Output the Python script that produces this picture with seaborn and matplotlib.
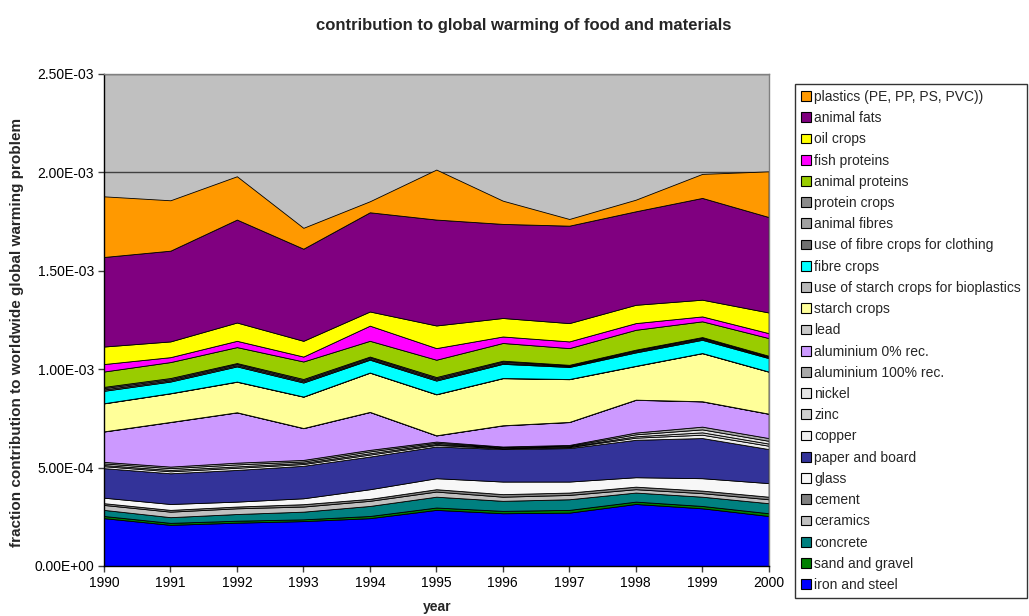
import matplotlib
matplotlib.use("Agg")
import matplotlib.pyplot as plt
import seaborn as sns
from matplotlib.patches import Patch
from matplotlib.ticker import FormatStrFormatter

# values, in units of 1e-4
UNIT = 1e-4
years = list(range(1990, 2001))

iron_steel = [2.43, 2.09, 2.20, 2.28, 2.43, 2.85, 2.68, 2.71, 3.15, 2.93, 2.54]
sand_gravel = [0.11, 0.10, 0.10, 0.09, 0.11, 0.12, 0.12, 0.14, 0.12, 0.12, 0.14]
concrete = [0.31, 0.29, 0.34, 0.39, 0.51, 0.55, 0.51, 0.54, 0.46, 0.47, 0.51]
ceramics = [0.25, 0.28, 0.29, 0.26, 0.26, 0.26, 0.21, 0.22, 0.17, 0.18, 0.20]
cement = [0.09, 0.09, 0.09, 0.12, 0.10, 0.12, 0.13, 0.12, 0.13, 0.13, 0.13]
glass = [0.28, 0.30, 0.25, 0.30, 0.49, 0.56, 0.64, 0.56, 0.48, 0.63, 0.69]
paper_board = [1.50, 1.56, 1.61, 1.65, 1.66, 1.61, 1.65, 1.70, 1.90, 2.04, 1.73]
copper = [0.10, 0.10, 0.11, 0.09, 0.10, 0.08, 0.04, 0.05, 0.11, 0.17, 0.17]
zinc = [0.06, 0.07, 0.07, 0.06, 0.07, 0.05, 0.03, 0.03, 0.07, 0.12, 0.11]
nickel = [0.08, 0.09, 0.10, 0.07, 0.09, 0.06, 0.03, 0.04, 0.10, 0.15, 0.14]
alu_100 = [0.08, 0.08, 0.09, 0.08, 0.08, 0.06, 0.03, 0.04, 0.09, 0.14, 0.14]
alu_0 = [1.54, 2.26, 2.55, 1.61, 1.92, 0.31, 1.07, 1.16, 1.66, 1.28, 1.23]
lead = [0.01, 0.01, 0.01, 0.01, 0.01, 0.01, 0.01, 0.01, 0.01, 0.01, 0.01]
starch_crops = [1.42, 1.45, 1.55, 1.59, 1.99, 2.08, 2.39, 2.17, 1.71, 2.44, 2.13]
starch_bioplastics = [0.01, 0.01, 0.01, 0.01, 0.01, 0.01, 0.01, 0.01, 0.01, 0.01, 0.01]
fibre_crops = [0.63, 0.59, 0.77, 0.71, 0.65, 0.69, 0.72, 0.61, 0.68, 0.67, 0.68]
fibre_clothing = [0.07, 0.06, 0.06, 0.06, 0.05, 0.06, 0.05, 0.04, 0.05, 0.05, 0.04]
animal_fibres = [0.07, 0.06, 0.06, 0.06, 0.06, 0.06, 0.06, 0.04, 0.05, 0.05, 0.04]
protein_crops = [0.06, 0.06, 0.05, 0.06, 0.05, 0.06, 0.05, 0.03, 0.04, 0.04, 0.04]
animal_proteins = [0.78, 0.81, 0.81, 0.89, 0.80, 0.88, 0.90, 0.85, 1.01, 0.80, 0.90]
fish_proteins = [0.38, 0.25, 0.32, 0.25, 0.77, 0.59, 0.33, 0.34, 0.34, 0.25, 0.25]
oil_crops = [0.89, 0.80, 0.93, 0.80, 0.72, 1.15, 0.94, 0.93, 0.93, 0.85, 1.05]
animal_fats = [4.55, 4.61, 5.23, 4.68, 5.04, 5.38, 4.78, 4.95, 4.75, 5.17, 4.85]
plastics = [3.08, 2.56, 2.20, 1.06, 0.56, 2.54, 1.18, 0.34, 0.59, 1.22, 2.32]

# stacking order, bottom to top
series = [
    ("iron and steel", iron_steel),
    ("sand and gravel", sand_gravel),
    ("concrete", concrete),
    ("ceramics", ceramics),
    ("cement", cement),
    ("glass", glass),
    ("paper and board", paper_board),
    ("copper", copper),
    ("zinc", zinc),
    ("nickel", nickel),
    ("aluminium 100% rec.", alu_100),
    ("aluminium 0% rec.", alu_0),
    ("lead", lead),
    ("starch crops", starch_crops),
    ("use of starch crops for bioplastics", starch_bioplastics),
    ("fibre crops", fibre_crops),
    ("use of fibre crops for clothing", fibre_clothing),
    ("animal fibres", animal_fibres),
    ("protein crops", protein_crops),
    ("animal proteins", animal_proteins),
    ("fish proteins", fish_proteins),
    ("oil crops", oil_crops),
    ("animal fats", animal_fats),
    ("plastics (PE, PP, PS, PVC))", plastics),
]

colors = {
    "iron and steel": "#0000FF",
    "sand and gravel": "#008000",
    "concrete": "#008080",
    "ceramics": "#C0C0C0",
    "cement": "#808080",
    "glass": "#F7F7F7",
    "paper and board": "#333399",
    "copper": "#EEEEEE",
    "zinc": "#CFCFCF",
    "nickel": "#E4E4E4",
    "aluminium 100% rec.": "#A8A8A8",
    "aluminium 0% rec.": "#CC99FF",
    "lead": "#C8C8C8",
    "starch crops": "#FFFF99",
    "use of starch crops for bioplastics": "#B8B8B8",
    "fibre crops": "#00FFFF",
    "use of fibre crops for clothing": "#707070",
    "animal fibres": "#A0A0A0",
    "protein crops": "#8C8C8C",
    "animal proteins": "#99CC00",
    "fish proteins": "#FF00FF",
    "oil crops": "#FFFF00",
    "animal fats": "#800080",
    "plastics (PE, PP, PS, PVC))": "#FF9900",
}

sns.set_theme(style="white")
plt.rcParams["font.family"] = ["Liberation Sans", "DejaVu Sans"]

fig = plt.figure(figsize=(10.29, 6.16), dpi=100)
ax = fig.add_axes([0.101, 0.0812, 0.646, 0.7988])

labels = [name for name, _ in series]
values = [[v * UNIT for v in vals] for _, vals in series]
ax.stackplot(years, values, labels=labels,
             colors=[colors[n] for n in labels],
             edgecolor="black", linewidth=0.6)

ax.set_facecolor("#C0C0C0")
ax.set_xlim(1990, 2000)
ax.set_ylim(0, 2.5e-3)
ax.set_xticks(years)
ax.set_yticks([0, 0.5e-3, 1.0e-3, 1.5e-3, 2.0e-3, 2.5e-3])
ax.yaxis.set_major_formatter(FormatStrFormatter("%.2E"))
ax.yaxis.grid(True, color="#404040", linewidth=1)
ax.set_axisbelow(True)
ax.tick_params(axis="both", direction="out", length=4, width=1,
               color="#404040", labelsize=10, colors="black", pad=3)
ax.tick_params(left=True, bottom=True)
for side in ["left", "bottom"]:
    ax.spines[side].set_color("black")
    ax.spines[side].set_linewidth(1)
for side in ["top", "right"]:
    ax.spines[side].set_color("#808080")
    ax.spines[side].set_linewidth(1)

fig.text(0.509, 0.958, "contribution to global warming of food and materials",
         ha="center", va="center", fontsize=12, fontweight="bold")
fig.text(0.017, 0.46, "fraction contribution to worldwide global warming problem",
         ha="center", va="center", rotation=90, fontsize=11, fontweight="bold")
fig.text(0.4245, 0.0146, "year", ha="center", va="center",
         fontsize=10, fontweight="bold")

handles = [Patch(facecolor=colors[n], edgecolor="black", linewidth=0.8, label=n)
           for n in reversed(labels)]
leg = fig.legend(handles=handles, loc="upper left",
                 bbox_to_anchor=(0.7726, 0.8636), fontsize=10,
                 frameon=True, fancybox=False, shadow=False,
                 handlelength=0.7, handleheight=0.7, handletextpad=0.25,
                 labelspacing=0.52, borderpad=0.42, borderaxespad=0)
leg.get_frame().set_edgecolor("black")
leg.get_frame().set_linewidth(1)

fig.savefig("out.png", dpi=100, facecolor="white")
